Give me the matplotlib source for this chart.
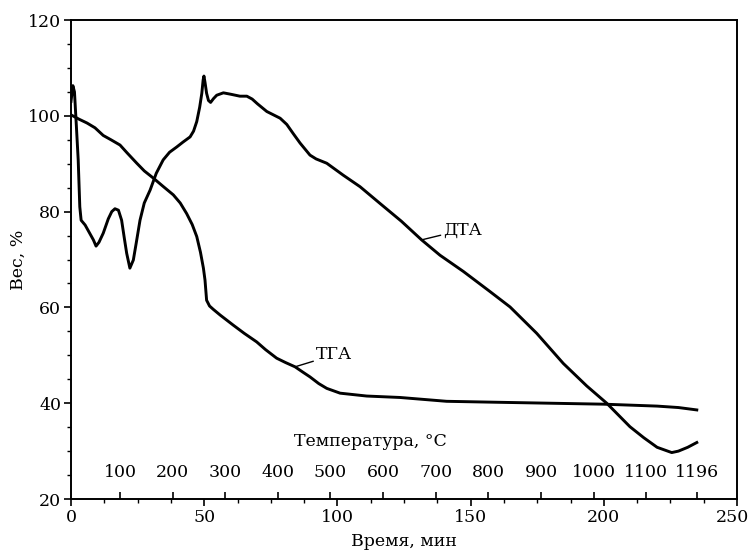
import numpy as np
import matplotlib
matplotlib.use("Agg")
import matplotlib.pyplot as plt
import matplotlib.transforms as mtransforms
from matplotlib.ticker import MultipleLocator

plt.rcParams['font.family'] = ['DejaVu Serif']
plt.rcParams['font.size'] = 12.5

# ДТА curve (time, min / value)
dta_t = [0, 0.7, 1.3, 2.0, 2.7, 3.3, 3.8, 5.3, 7.0, 8.4, 9.4, 10.5, 12.1, 14.0, 15.3,
         16.5, 17.8, 19.0, 20.0, 20.9, 22.1, 23.4, 24.5, 25.9, 27.5, 29.7, 32.0, 34.6,
         37.0, 39.7, 42.0, 44.7, 46.0, 47.2, 48.3, 49.1, 49.6, 49.9, 50.3, 50.9, 51.6,
         52.4, 53.5, 54.7, 57.2, 60.0, 63.4, 66.0, 68.0, 70.0, 73.5, 78.5, 81.0, 83.4,
         86.0, 89.7, 92.0, 96.0, 102.2, 108.5, 116.0, 124.0, 131.6, 138.5, 147.3, 157.3,
         164.8, 174.8, 184.8, 193.6, 201.1, 209.8, 215.0, 220.0, 225.5, 228.0, 231.5, 234.9]
dta_v = [103, 106.3, 105, 98, 90.8, 81, 78.2, 77.2, 75.5, 74.1, 72.8, 73.6, 75.5, 78.5, 80.0,
         80.6, 80.3, 78.2, 74.5, 71.3, 68.2, 69.9, 73.5, 78.2, 81.8, 84.5, 88.0, 90.8,
         92.4, 93.5, 94.5, 95.6, 96.8, 98.8, 101.8, 104.7, 107.5, 108.3, 107, 104.7, 103.2,
         102.8, 103.6, 104.3, 104.8, 104.5, 104.1, 104.1, 103.5, 102.5, 100.9, 99.5, 98.2, 96.3,
         94.3, 91.8, 91.0, 90.1, 87.6, 85.2, 81.7, 78.0, 74.1, 70.9, 67.5, 63.3,
         60.1, 54.6, 48.3, 43.6, 40.0, 35.1, 32.8, 30.8, 29.7, 30.0, 30.8, 31.8]

# ТГА curve
tga_t = [0, 3, 6, 9, 12.1, 15, 18.4, 21, 24.7, 27.5, 30.9, 34.5, 38.4, 41, 43.4, 45.5, 47.2,
         48.6, 49.7, 50.3, 50.9, 52.0, 53.4, 56, 60.9, 65, 69.7, 73, 77.2, 80.5, 84.1, 87,
         89.7, 93, 96, 101, 111, 123.5, 141, 160, 180, 200, 210, 220, 228, 234.9]
tga_v = [100.2, 99.3, 98.5, 97.5, 95.9, 95.0, 93.9, 92.3, 90.1, 88.5, 87.0, 85.3, 83.5, 81.8,
         79.6, 77.3, 74.8, 71.5, 68.2, 65.7, 61.5, 60.3, 59.6, 58.4, 56.3, 54.6, 52.8, 51.2,
         49.4, 48.5, 47.6, 46.5, 45.5, 44.1, 43.1, 42.1, 41.5, 41.2, 40.4, 40.2, 40.0, 39.8,
         39.6, 39.4, 39.1, 38.6]

# temperature scale
temps = [100, 200, 300, 400, 500, 600, 700, 800, 900, 1000, 1100, 1196]
time_ticks = [0, 50, 100, 150, 200, 250]


def t2T(t):
    return (np.asarray(t) + 1.35) / 0.1975


def T2t(T):
    return np.asarray(T) * 0.1975 - 1.35


fig = plt.figure(figsize=(7.49, 5.53), dpi=100)
ax = fig.add_axes([0.0948, 0.0976, 0.8892, 0.8662])

ax.plot(dta_t, dta_v, color='black', lw=2.1, solid_joinstyle='round')
ax.plot(tga_t, tga_v, color='black', lw=2.1, solid_joinstyle='round')

ax.set_xlim(0, 250)
ax.set_ylim(20, 120)
ax.set_xticks(time_ticks)
ax.xaxis.set_minor_locator(MultipleLocator(12.5))
ax.yaxis.set_major_locator(MultipleLocator(20))
ax.yaxis.set_minor_locator(MultipleLocator(5))
ax.tick_params(which='major', direction='out', length=5, width=1.2, pad=2)
ax.tick_params(which='minor', direction='out', length=3, width=1.0)
for s in ax.spines.values():
    s.set_linewidth(1.4)

# keep the last time label inside the picture
last = ax.xaxis.get_major_ticks()[-1].label1
last.set_transform(last.get_transform() +
                   mtransforms.ScaledTranslation(-3 / 72, 0, fig.dpi_scale_trans))

ax.set_xlabel('Время, мин', labelpad=5)
ax.set_ylabel('Вес, %', labelpad=1)

secax = ax.secondary_xaxis('bottom', functions=(t2T, T2t))
secax.set_xticks(temps)
secax.set_xticklabels([str(T) for T in temps])
secax.tick_params(direction='in', length=5, width=1.2, pad=-25)
secax.spines['bottom'].set_visible(False)
secax.minorticks_off()

ax.text(0.45, 0.12, 'Температура, °C', transform=ax.transAxes, ha='center', va='center')

# curve labels with leader lines
ax.annotate('ДТА', xy=(131.6, 74.1), xytext=(139.8, 76.2), va='center', ha='left',
            arrowprops=dict(arrowstyle='-', color='black', lw=1.0, shrinkA=0, shrinkB=0))
ax.annotate('ТГА', xy=(84.1, 47.6), xytext=(92.0, 50.1), va='center', ha='left',
            arrowprops=dict(arrowstyle='-', color='black', lw=1.0, shrinkA=0, shrinkB=0))

plt.savefig('out.png', dpi=100)
